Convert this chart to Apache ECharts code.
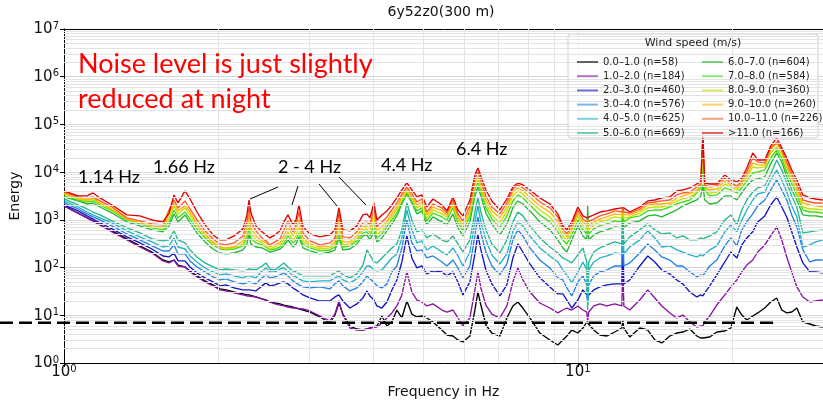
<!DOCTYPE html>
<html>
<head>
<meta charset="utf-8">
<script src="https://cdn.jsdelivr.net/npm/echarts/dist/echarts.min.js"></script>
<style>
  html, body { margin: 0; padding: 0; background: #fff; }
  #chart { width: 823px; height: 404px; }
</style>
</head>
<body>
<div id="chart"></div>
<script>
// Frequency grid (Hz) shared by every wind-speed class
const freqHz = [
  1.000,1.065,1.109,1.139,1.175,1.240,1.326,1.405,1.483,1.558,1.601,1.637,1.667,1.720,1.759,1.815,1.881,1.950,2.012,2.066,2.142,2.230,2.270,2.291,2.311,2.363,
  2.428,2.472,2.516,2.573,2.632,2.679,2.728,2.790,2.828,2.866,2.918,3.011,3.148,3.292,3.367,3.428,3.490,3.601,3.716,3.817,3.886,3.938,4.010,4.064,4.156,4.250,4.346,4.444,4.545,4.648,4.753,4.861,4.971,5.083,5.224,5.439,5.562,
  5.714,5.843,5.975,6.165,6.305,6.390,6.476,6.623,6.803,7.051,7.276,7.474,7.644,7.817,8.066,8.435,8.822,9.143,9.350,9.519,9.735,10.00,10.23,10.41,10.45,10.50,10.74,11.04,11.39,11.80,12.18,12.23,12.29,12.62,13.20,
  13.68,14.12,14.57,15.10,15.58,16.01,16.52,17.04,17.35,17.51,17.66,18.06,18.64,19.32,19.85,20.39,20.85,21.32,21.90,22.39,23.11,23.73,24.38,24.94,25.50,26.08,26.68,27.41,28.28,29.04,29.97
];

// Mean spectral energy per wind-speed class (m/s)
const e00_10 = [
  1960,1390,1100,949,784,589,398,284,212,144,131,144,113,103,85,67,52.6,43.3,35.7,34,30.8,28,26.7,26.7,25.4,24.2,
  22,20.9,19,18.1,17.3,16.4,15.7,14.9,14.2,13.6,12.9,11.7,9.22,6.89,10.1,18.1,10.6,5.96,5.16,4.91,5.16,5.41,5.68,5.96,9.67,5.96,7.23,12.9,8.78,19.9,10.6,9.22,9.67,8.78,7.23,4.91,3.86,
  3.68,3.04,2.76,3.68,12.9,30.8,16.4,6.26,4.25,3.68,8.78,15.7,19,14.2,8.78,4.25,3.04,2.38,3.04,3.68,4.91,4.25,5.41,7.23,7.23,6.89,4.91,3.86,3.68,4.46,5.41,7.96,5.41,3.51,5.41,
  4.91,3.04,2.63,3.68,4.25,4.46,5.16,3.68,3.34,3.34,3.34,3.51,4.46,4.68,5.41,14.9,10.1,7.96,9.67,11.2,14.2,19,23.1,12.9,11.2,11.7,14.2,7.23,6.57,5.96,5.68
];
const e10_20 = [
  1960,1390,1100,949,784,562,380,270,202,138,125,144,108,103,81,64,50,41.3,34,32.4,29.4,26.7,25.4,25.4,24.2,24.2,
  22,20.9,19,17.3,16.4,15.7,14.9,14.2,14.2,13.6,13.6,12.3,9.67,7.59,10.6,19.9,10.1,5.41,4.91,4.91,5.16,5.41,5.68,5.68,6.89,8.78,11.2,15.7,26.7,81,30.8,20.9,19,15.7,17.3,12.9,11.7,
  12.9,8.78,5.96,8.78,34,81,37.4,16.4,10.6,8.78,15.7,50,98,55,30.8,18.1,14.2,11.2,12.9,14.2,12.9,15.7,12.9,11.7,7.23,11.7,15.7,17.3,15.7,17.3,15.7,131,15.7,12.9,20.9,
  34,23.1,15.7,11.2,8.78,10.1,7.23,5.68,5.96,5.96,7.23,9.67,16.4,26.7,39.3,55,81,113,144,212,298,460,713,380,167,81,39.3,24.2,19,19.9,20.9
];
const e20_30 = [
  2050,1540,1210,1040,863,648,439,328,245,175,167,202,138,138,103,77,61,50,41.3,43.3,37.4,34,34,34,34,32.4,
  41.3,47.7,41.3,43.3,47.7,50,45.5,37.4,34,30.8,26.7,23.1,19.9,19.9,24.2,26.7,19.9,14.2,17.3,23.1,32.4,25.4,20.9,15.7,14.2,19,34,55,131,460,159,98,108,73.6,85,81,67,
  81,50,26.7,50,193,483,234,89,45.5,25.4,43.3,159,313,212,119,61,39.3,28,28,20.9,14.2,20.9,34,26.7,20.9,26.7,34,39.3,43.3,45.5,45.5,483,45.5,55,108,
  175,131,89,73.6,55,45.5,30.8,24.2,26.7,25.4,29.4,41.3,70,131,212,159,298,418,562,905,1210,2050,3020,1860,1150,562,270,125,81,81,77
];
const e30_40 = [
  2260,1690,1330,1150,995,748,506,380,284,223,223,298,193,193,138,103,81,64,55,58,50,45.5,47.7,50,47.7,45.5,
  61,70,61,64,70,77,67,52.6,47.7,43.3,39.3,37.4,39.3,35.7,45.5,52.6,41.3,32.4,37.4,50,67,58,50,41.3,37.4,45.5,81,108,258,995,328,223,234,159,175,131,108,
  144,98,61,108,460,1150,532,212,108,70,119,380,618,460,258,144,98,61,55,37.4,25.4,50,67,43.3,20.9,43.3,67,81,89,108,108,905,108,125,202,
  313,234,167,144,108,108,81,64,70,67,77,108,144,284,418,284,618,905,1330,1960,2610,4230,6860,4230,2610,1270,713,234,131,144,144
];
const e40_50 = [
  2490,1860,1460,1270,1100,863,589,439,345,270,284,418,270,245,175,131,98,81,70,73.6,67,61,67,67,67,61,
  85,98,81,81,93.5,98,85,67,64,58,52.6,50,52.6,52.6,61,67,55,47.7,58,81,108,108,89,85,89,119,159,193,418,1610,618,328,362,234,284,212,184,
  258,175,108,212,905,1960,905,380,184,119,193,562,905,748,460,258,175,131,89,70,47.7,81,131,89,16.4,89,131,159,175,202,193,1270,193,270,380,
  589,418,270,284,234,212,184,167,184,175,193,234,284,562,784,562,995,1610,2610,3490,3840,6860,11100,6860,3840,1960,1150,270,298,345,380
];
const e50_60 = [
  2740,2050,1690,1460,1270,949,680,532,398,362,380,589,380,328,234,167,125,103,89,93.5,89,85,89,93.5,89,89,
  108,125,93.5,89,108,125,103,85,81,73.6,67,67,67,67,77,85,70,61,73.6,113,234,184,131,125,159,202,258,313,618,2260,995,562,618,418,506,380,345,
  460,313,212,380,1460,2880,1460,618,313,202,380,905,1460,1210,748,418,270,202,159,144,125,184,258,131,12.9,131,212,258,298,345,313,1460,313,439,618,
  823,618,506,532,418,460,380,380,418,398,418,460,562,995,1270,784,1610,2610,3840,4660,5130,9170,18000,11100,5930,3170,1860,532,562,589,618
];
const e60_70 = [
  3020,2490,2150,2260,1860,1390,905,748,618,562,748,1330,905,1270,863,532,345,245,202,193,202,234,313,506,313,270,
  258,234,212,223,245,284,380,270,313,439,258,223,193,212,234,418,234,245,313,460,483,380,562,345,418,589,823,1210,2150,3490,2260,1330,1540,784,1150,905,784,
  1330,680,460,905,3170,4890,3170,1390,823,483,823,1780,2490,2150,1540,905,618,380,258,212,380,748,460,380,1960,380,483,562,618,713,680,1460,680,863,949,
  1210,1270,1150,1390,1610,1960,2260,2610,3170,5390,2610,2150,2260,3170,3170,2610,3660,5130,6860,7200,7930,14900,25300,16400,7930,4230,2610,1270,1210,1210,1150
];
const e70_80 = [
  3170,2610,2370,2490,2050,1540,995,823,680,618,905,1610,1100,1460,1040,648,418,298,245,234,245,284,418,680,418,328,
  298,270,234,245,270,328,460,328,380,532,313,258,223,234,270,506,270,284,362,532,562,460,748,418,506,713,995,1390,2370,3840,2490,1540,1780,949,1390,1150,995,
  1780,863,589,1150,4230,6230,4040,1780,1040,680,1210,2490,3330,2880,2050,1270,905,562,380,313,483,995,618,506,784,506,648,748,823,949,905,1330,905,1100,1210,
  1540,1610,1610,1860,2150,2370,2610,3660,4660,14200,4230,3170,3330,4660,4230,3660,4660,6540,9610,10100,11100,19800,29200,19800,10100,5650,3330,1610,1460,1460,1390
];
const e80_90 = [
  3490,2740,2490,2740,2150,1610,1040,863,713,680,1100,1960,1330,1780,1270,748,460,313,258,245,258,313,506,905,532,380,
  328,284,245,270,298,380,562,380,460,713,362,284,245,258,298,713,298,313,398,618,648,532,995,483,589,823,1150,1610,2610,4040,2740,1780,2050,1100,1610,1330,1150,
  2050,995,680,1390,5130,7200,4660,2150,1270,863,1540,3170,4040,3490,2490,1610,1150,713,460,380,589,1210,748,618,995,618,784,905,995,1150,1100,1460,1100,1150,1390,
  1780,1860,1860,2050,2490,2740,3020,3840,5130,29200,4890,3660,3840,5650,4890,4230,5390,7550,12900,12200,12900,25300,33800,22900,12200,6860,3840,1860,1690,1690,1610
];
const e90_100 = [
  3660,2880,2610,2880,2260,1690,1040,863,748,713,1330,2260,1540,1960,1460,823,506,345,270,258,270,362,680,1270,680,460,
  362,328,270,298,328,460,713,460,618,995,418,313,270,284,345,995,345,345,460,713,748,648,1330,589,713,949,1330,1860,3020,4440,3020,2050,2370,1270,1860,1540,1270,
  2260,1150,784,1610,6230,8320,5390,2610,1540,1100,1860,3840,4660,4040,3020,1960,1460,905,562,439,680,1390,905,748,905,748,905,1040,1150,1330,1270,1610,1270,1270,1540,
  2050,2150,2150,2260,2880,3170,3490,4230,5390,40900,5130,4230,4440,6540,5390,4660,5930,8750,15600,14200,14200,29200,40900,26600,14200,7930,4440,2260,2050,1960,1860
];
const e100_110 = [
  3840,3020,2880,3020,2490,1860,1100,949,823,784,1610,2610,1780,2490,1690,995,589,398,313,298,328,460,905,1780,905,589,
  418,362,298,345,398,618,949,562,784,1460,532,362,298,328,418,1390,439,418,562,863,905,784,1780,713,905,1150,1610,2260,3490,4890,3490,2370,2740,1460,2150,1780,1390,
  2610,1330,949,1960,7550,10100,6540,3170,1860,1330,2260,4440,5390,4660,3660,2370,1780,1150,648,506,784,1610,1040,905,995,905,1040,1210,1330,1540,1460,1780,1460,1390,1690,
  2260,2370,2490,2610,3330,3660,3840,4890,5650,54600,5390,4890,5130,7550,5930,5130,6540,10100,19800,16400,15600,32200,42900,29200,16400,9170,5390,2610,2370,2260,2260
];
const e110 = [
  4040,3170,3170,3660,2880,2050,1270,1210,995,905,1390,3330,2260,4040,2740,1460,784,483,380,380,460,648,1270,2610,1390,748,
  562,483,418,483,589,905,1270,784,995,2050,713,506,439,483,618,1780,618,589,748,1270,1330,1100,2260,995,1270,1540,2050,2880,4230,5930,4230,3020,3330,1860,2740,2050,1540,
  3020,1610,1210,2610,8750,12200,8320,4230,2490,1610,2740,4890,5930,5390,4230,2880,2150,1330,748,618,905,1860,1210,1100,1150,1100,1270,1460,1540,1690,1780,1960,1780,1460,1860,
  2490,2610,2880,3020,4040,4230,4660,5650,6230,66300,5930,5650,5650,8750,6860,6230,7550,12200,25300,18000,18000,35400,52100,32200,19800,11100,6860,3330,2880,2740,2610
];

const classNames = [
  '0.0–1.0 (n=58)', '1.0–2.0 (n=184)', '2.0–3.0 (n=460)', '3.0–4.0 (n=576)',
  '4.0–5.0 (n=625)', '5.0–6.0 (n=669)', '6.0–7.0 (n=604)', '7.0–8.0 (n=584)',
  '8.0–9.0 (n=360)', '9.0–10.0 (n=260)', '10.0–11.0 (n=226)', '>11.0 (n=166)'
];
const classValues = [e00_10, e10_20, e20_30, e30_40, e40_50, e50_60, e60_70, e70_80, e80_90, e90_100, e100_110, e110];
const classColors = [
  '#000000', '#8a10a2', '#1414c0', '#2282e2', '#22b2c8', '#22b890',
  '#22b832', '#44dc1e', '#c8e000', '#ffb400', '#ff5a28', '#e00000'
];

// Axis range and reference level
const xRange = [1, 30];
const yRange = [1, 1e7];
const xMinorTicks = [2, 3, 4, 5, 6, 7, 8, 9, 20];
const yDecades = [1, 10, 100, 1e3, 1e4, 1e5, 1e6];
const noiseFloor = 7;
const noiseFloorEnd = 24.4;

const yMinorTicks = [];
yDecades.forEach(d => { for (let k = 2; k <= 9; k++) yMinorTicks.push(k * d); });

function powLabel(v) {
  const e = Math.log10(v);
  const r = Math.round(e);
  if (Math.abs(e - r) > 1e-6) return '';
  return '{b|10}{s|' + r + '}';
}
const tickRich = {
  b: { fontSize: 15, lineHeight: 15, verticalAlign: 'bottom', fontFamily: 'DejaVu Sans', color: '#111' },
  s: { fontSize: 10, lineHeight: 16, verticalAlign: 'top', padding: [0, 0, 5, 0], fontFamily: 'DejaVu Sans', color: '#111' }
};

const series = classValues.map((vals, i) => ({
  name: classNames[i],
  type: 'line',
  data: freqHz.map((f, j) => [f, vals[j]]),
  symbol: 'none',
  showSymbol: false,
  lineStyle: { color: classColors[i], width: 1.35 },
  itemStyle: { color: classColors[i] },
  emphasis: { disabled: true },
  z: 2
}));

// minor grid lines
series.unshift({
  type: 'line',
  data: [],
  silent: true,
  z: 1,
  markLine: {
    silent: true,
    symbol: ['none', 'none'],
    label: { show: false },
    lineStyle: { color: '#e3e3e3', width: 1, type: 'solid' },
    animation: false,
    data: xMinorTicks.map(v => ({ xAxis: v })).concat(yMinorTicks.map(v => ({ yAxis: v })))
  }
});

const legendCommon = {
  orient: 'vertical',
  itemWidth: 21,
  itemHeight: 10,
  itemGap: 4.2,
  selectedMode: false,
  icon: 'path://M0,4 L21,4 L21,6 L0,6 Z',
  itemStyle: { opacity: 0.6 },
  lineStyle: { opacity: 0.6 },
  textStyle: { fontFamily: 'DejaVu Sans', fontSize: 10, color: '#222' },
  z: 6
};

const option = {
  animation: false,
  textStyle: { fontFamily: 'DejaVu Sans' },
  grid: { left: 64, right: 0, top: 29, bottom: 41, containLabel: false },
  legend: [
    Object.assign({ data: classNames.slice(0, 6), left: 572, top: 52 }, legendCommon),
    Object.assign({ data: classNames.slice(6), left: 697, top: 52 }, legendCommon)
  ],
  xAxis: [{
    type: 'log', logBase: 10, min: xRange[0], max: xRange[1],
    name: 'Frequency in Hz', nameLocation: 'middle', nameGap: 22,
    nameTextStyle: { fontSize: 14, color: '#111', fontFamily: 'DejaVu Sans' },
    axisLine: { show: true, onZero: false, lineStyle: { color: '#000', width: 1 } },
    axisTick: { show: true, length: 4, lineStyle: { color: '#000' } },
    axisLabel: { formatter: powLabel, rich: tickRich, margin: 1, showMaxLabel: false },
    splitLine: { show: true, lineStyle: { color: '#d6d6d6', width: 1 } }
  }, {
    type: 'log', logBase: 10, min: xRange[0], max: xRange[1], position: 'top',
    axisLine: { show: true, onZero: false, lineStyle: { color: '#000', width: 1 } },
    axisTick: { show: false }, axisLabel: { show: false }, splitLine: { show: false }
  }],
  yAxis: {
    type: 'log', logBase: 10, min: yRange[0], max: yRange[1],
    name: 'Energy', nameLocation: 'middle', nameGap: 34,
    nameTextStyle: { fontSize: 14, color: '#111', fontFamily: 'DejaVu Sans' },
    axisLine: { show: true, onZero: false, lineStyle: { color: '#000', width: 1 } },
    axisTick: { show: true, length: 4, lineStyle: { color: '#000' } },
    axisLabel: { formatter: powLabel, rich: tickRich, margin: 5 },
    splitLine: { show: true, lineStyle: { color: '#d6d6d6', width: 1 } }
  },
  series: series
};

const chart = echarts.init(document.getElementById('chart'), null, { renderer: 'canvas' });
chart.setOption(option);

const yRef = chart.convertToPixel({ yAxisIndex: 0 }, noiseFloor);
const xRefEnd = chart.convertToPixel({ xAxisIndex: 0 }, noiseFloorEnd);

const noteFont = 'Lato';
function label(text, x, y, size, color, align) {
  return {
    type: 'text', x: x, y: y, z: 10, silent: true,
    style: { text: text, fill: color || '#000', font: size + 'px ' + noteFont, align: align || 'left', verticalAlign: 'middle' }
  };
}
function pointer(x1, y1, x2, y2) {
  return { type: 'line', z: 10, silent: true, shape: { x1, y1, x2, y2 }, style: { stroke: '#000', lineWidth: 1 } };
}

chart.setOption({
  graphic: { elements: [
    { type: 'text', x: 441, y: 12, z: 10, style: { text: '6y52z0(300 m)', fill: '#111', font: '14px "DejaVu Sans"', align: 'center', verticalAlign: 'middle' } },
    { type: 'rect', z: 3, silent: true, shape: { x: 568, y: 34, width: 250, height: 104, r: 3 }, style: { fill: 'rgba(255,255,255,0.8)', stroke: '#cfcfcf', lineWidth: 1 } },
    { type: 'text', x: 693, y: 43, z: 7, style: { text: 'Wind speed (m/s)', fill: '#222', font: '11px "DejaVu Sans"', align: 'center', verticalAlign: 'middle' } },
    label('Noise level is just slightly', 78, 64, 27, '#ff0000'),
    label('reduced at night', 78, 99, 27, '#ff0000'),
    label('1.14 Hz', 78, 177, 18),
    label('1.66 Hz', 153, 167.5, 18),
    label('2 - 4 Hz', 278, 167.5, 18),
    label('4.4 Hz', 381, 165, 18),
    label('6.4 Hz', 456, 149.5, 18),
    pointer(278, 187, 250, 199),
    pointer(298, 186, 292, 205),
    pointer(319, 184, 337, 206),
    pointer(339, 177, 366, 205),
    { type: 'line', z: 10, silent: true, shape: { x1: 0, y1: yRef, x2: xRefEnd, y2: yRef }, style: { stroke: '#000', lineWidth: 2.5, lineDash: [13, 6] } }
  ] }
});
</script>
</body>
</html>
